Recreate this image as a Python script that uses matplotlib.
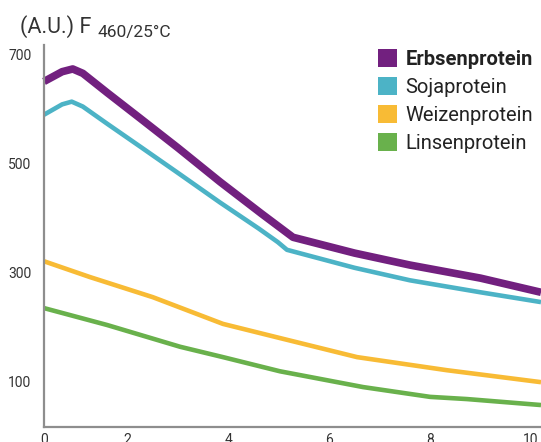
import matplotlib
matplotlib.use("Agg")
import matplotlib.pyplot as plt
from matplotlib.patches import Patch

plt.rcParams["font.family"] = ["Roboto", "DejaVu Sans"]

# values
erbsen_x = [0.34, 0.7, 0.91, 1.11, 1.6, 2.24, 3.0, 3.83, 4.66, 5.28, 6.5, 7.6, 9.0, 10.2]
erbsen_y = [650, 668, 673, 665, 629, 583, 528, 466, 407, 364, 335, 313, 289, 263]

soja_x = [0.34, 0.7, 0.89, 1.11, 1.6, 2.24, 3.0, 3.83, 4.6, 4.98, 5.16, 6.5, 7.6, 9.0, 10.2]
soja_y = [589, 608, 613, 604, 572, 531, 482, 428, 380, 355, 341, 308, 285, 263, 245]

weizen_x = [0.34, 1.25, 2.5, 3.89, 5.02, 6.55, 8.33, 10.2]
weizen_y = [320, 291, 254, 205, 179, 144, 120, 98]

linsen_x = [0.34, 1.59, 3.04, 3.89, 5.02, 6.67, 8.0, 8.73, 10.2]
linsen_y = [234, 203, 163, 144, 118, 89, 71, 67, 56]

labels = ["Erbsenprotein", "Sojaprotein", "Weizenprotein", "Linsenprotein"]
colors = ["#72207f", "#4cb3c6", "#f8bb35", "#69b14c"]
widths = [5.5, 3.3, 3.3, 3.3]

x_ticks = [2, 4, 6, 8, 10]
y_ticks = [100, 300, 500, 700]

fig = plt.figure(figsize=(5.41, 4.42), dpi=100)
ax = fig.add_axes([44 / 541, 1 - 427 / 442, 1 - 44 / 541, (427 - 45) / 442])

series = [(erbsen_x, erbsen_y), (soja_x, soja_y), (weizen_x, weizen_y), (linsen_x, linsen_y)]
for (xs, ys), c, w in zip(series, colors, widths):
    ax.plot(xs, ys, color=c, lw=w, solid_joinstyle="round", solid_capstyle="butt", clip_on=False)

ax.set_xlim(0.34, 10.2)
ax.set_ylim(15.7, 717)

# the "0" label sits at the axis corner in the reference
ax.set_xticks([0.34] + x_ticks)
ax.set_xticklabels(["0"] + [str(t) for t in x_ticks])
ax.set_yticks(y_ticks)
ax.tick_params(length=0, labelsize=10, labelcolor="#333333")
ax.tick_params(axis="x", pad=4)
ax.tick_params(axis="y", pad=9)

for s in ["top", "right"]:
    ax.spines[s].set_visible(False)
for s in ["left", "bottom"]:
    ax.spines[s].set_color("#8e8e8e")
    ax.spines[s].set_linewidth(1.6)

handles = [Patch(facecolor=c, edgecolor="none") for c in colors]
leg = fig.legend(handles, labels, loc="upper right", bbox_to_anchor=(1.0, 0.907),
                 frameon=False, fontsize=14.5, handlelength=0.95, handleheight=0.95,
                 handletextpad=0.4, labelspacing=0.42, borderaxespad=0.0)
for t in leg.get_texts():
    t.set_color("#222222")
leg.get_texts()[0].set_fontweight("bold")

fig.text(20 / 541, 1 - 33 / 442, "(A.U.) F", fontsize=15.5, color="#333333", va="baseline")
fig.text(97 / 541, 1 - 37 / 442, "460/25°C", fontsize=12.5, color="#333333", va="baseline")

fig.savefig("out.png", dpi=100)
